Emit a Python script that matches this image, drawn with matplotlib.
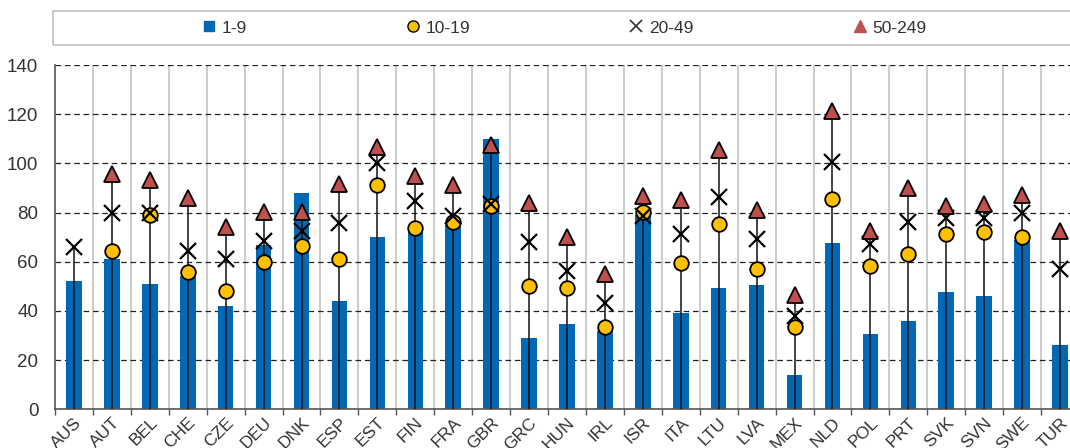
import numpy as np
import matplotlib.pyplot as plt
from matplotlib.lines import Line2D
from matplotlib.patches import Rectangle
from matplotlib.transforms import ScaledTranslation

plt.rcParams['font.family'] = ['Liberation Sans', 'DejaVu Sans']

countries = ['AUS', 'AUT', 'BEL', 'CHE', 'CZE', 'DEU', 'DNK', 'ESP', 'EST', 'FIN',
             'FRA', 'GBR', 'GRC', 'HUN', 'IRL', 'ISR', 'ITA', 'LTU', 'LVA', 'MEX',
             'NLD', 'POL', 'PRT', 'SVK', 'SVN', 'SWE', 'TUR']
nan = np.nan
size_1_9 = [52, 61, 51, 54, 42, 67, 88, 44, 70, 73, 75, 110, 29, 34.5, 32, 79, 39,
            49.5, 50.5, 14, 67.5, 30.5, 36, 47.5, 46, 69, 26]
size_10_19 = [nan, 64.5, 79, 55.7, 48.3, 60, 66.2, 61.1, 91.1, 73.9, 76, 82.8, 50.3,
              49.5, 33.3, 80.1, 59.4, 75.4, 56.9, 33.6, 85.4, 58.4, 63.2, 71.2, 72,
              70.2, nan]
size_20_49 = [66, 80, 80, 64.4, 61, 68.5, 72.5, 75.6, 100, 84.5, 78.6, 83.4, 68.2,
              56.3, 43.4, 78.6, 71.2, 86.5, 69.3, 38, 100.7, 67.1, 76.3, 77.7, 77.7,
              79.7, 56.9]
size_50_249 = [nan, 95.7, 93.3, 86, 74.3, 80.4, 80.1, 91.5, 106.7, 94.9, 91.1, 107.4,
               84, 70, 54.9, 86.7, 85, 105.3, 81.1, 46.4, 121.3, 72.7, 90.1, 82.7,
               83.6, 87.3, 72.3]
legend_labels = ['1-9', '10-19', '20-49', '50-249']

BLUE = '#0068b4'
YELLOW = '#ffc000'
RED = '#c0504d'
TXT = '#333333'

fig = plt.figure(figsize=(10.7, 4.48), dpi=100)
ax = fig.add_axes([55 / 1070, 38.7 / 448, 1024 / 1070, 344.3 / 448])

x = np.arange(len(countries))
ax.bar(x, size_1_9, width=0.41, color=BLUE, zorder=2)

# stems from zero up to the highest marker
markers = np.array([size_10_19, size_20_49, size_50_249], dtype=float)
tops = np.nanmax(markers, axis=0)
ax.vlines(x, 0, tops, color='#111111', lw=1.1, zorder=3)

ax.plot(x, size_10_19, 'o', ms=10.5, mfc=YELLOW, mec='black', mew=1.3, zorder=4)
ax.plot(x, size_20_49, 'x', ms=11, mec='black', mew=1.6, zorder=5)
ax.plot(x, size_50_249, '^', ms=11.5, mfc=RED, mec='black', mew=1.3, zorder=6)

ax.set_xlim(-0.5, len(countries) - 0.5)
ax.set_ylim(0, 140)
ax.set_yticks(range(0, 141, 20))
for v in range(20, 141, 20):
    ax.axhline(v, color='#222222', lw=0.9, ls=(0, (4.5, 3)), zorder=1)
for b in np.arange(0.5, len(countries) - 0.5, 1):
    ax.axvline(b, color='#c8c8c8', lw=1.3, zorder=0)

ax.set_xticks(x)
ax.set_xticklabels(countries, rotation=45, ha='right', rotation_mode='anchor')
shift = ScaledTranslation(3 / 100, 0, fig.dpi_scale_trans)
for lab in ax.get_xticklabels():
    lab.set_transform(lab.get_transform() + shift)
ax.set_xticks(np.arange(-0.5, len(countries), 1), minor=True)
ax.tick_params(axis='x', which='major', length=0, labelsize=12.5, labelcolor=TXT, pad=4)
ax.tick_params(axis='x', which='minor', length=4, color='#555555', width=1)
ax.tick_params(axis='y', length=0, labelsize=13.5, labelcolor=TXT, pad=12)
for s in ['top', 'right']:
    ax.spines[s].set_visible(False)
for s in ['left', 'bottom']:
    ax.spines[s].set_color('#555555')
    ax.spines[s].set_linewidth(1.2)

# legend strip above the plot
fig.patches.append(Rectangle((53 / 1070, 1 - 45 / 448), 1030 / 1070, 34 / 448,
                             transform=fig.transFigure, fill=False,
                             edgecolor='#bfbfbf', lw=1.2))
handles = [
    Line2D([], [], ls='none', marker='s', ms=7, mfc=BLUE, mec=BLUE),
    Line2D([], [], ls='none', marker='o', ms=8, mfc=YELLOW, mec='black', mew=1),
    Line2D([], [], ls='none', marker='x', ms=9, mec='#333333', mew=1.2),
    Line2D([], [], ls='none', marker='^', ms=8, mfc=RED, mec=RED),
]
fig.legend(handles, legend_labels, loc='center', bbox_to_anchor=(564 / 1070, 1 - 28 / 448),
           ncol=4, frameon=False, fontsize=12.5, handlelength=0.8, handletextpad=0.3,
           columnspacing=9.2, labelcolor=TXT)

fig.savefig('out.png', dpi=100)
